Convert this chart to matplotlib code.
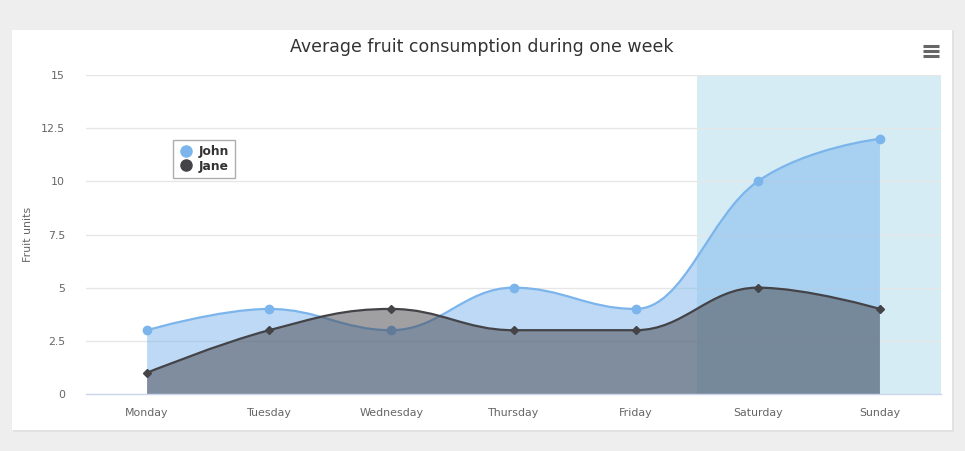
import matplotlib

matplotlib.use("Agg")
import matplotlib.pyplot as plt
from matplotlib.lines import Line2D
from matplotlib.patches import PathPatch, Rectangle
from matplotlib.path import Path

DAYS = ["Monday", "Tuesday", "Wednesday", "Thursday", "Friday", "Saturday", "Sunday"]
JOHN = [3, 4, 3, 5, 4, 10, 12]
JANE = [1, 3, 4, 3, 3, 5, 4]
Y_TICKS = [0, 2.5, 5, 7.5, 10, 12.5, 15]
Y_TICK_LABELS = ["0", "2.5", "5", "7.5", "10", "12.5", "15"]
WEEKEND_BAND = (4.5, 6.5)

JOHN_COLOR = "#7cb5ec"
JANE_COLOR = "#434348"
BAND_COLOR = (68 / 255, 170 / 255, 213 / 255, 0.22)
TEXT_COLOR = "#333333"
LABEL_COLOR = "#666666"
SMOOTHING = 1.5
FONT = ["DejaVu Sans"]

W, H = 965, 451


def spline_path(xs, ys):
    """Bezier path with the same control-point rule as a Highcharts spline."""
    n = len(xs)
    left = [(xs[i], ys[i]) for i in range(n)]
    right = [(xs[i], ys[i]) for i in range(n)]
    for i in range(1, n - 1):
        px, py = xs[i], ys[i]
        lx, ly = xs[i - 1], ys[i - 1]
        nx, ny = xs[i + 1], ys[i + 1]
        d = SMOOTHING + 1
        lcx = (SMOOTHING * px + lx) / d
        lcy = (SMOOTHING * py + ly) / d
        rcx = (SMOOTHING * px + nx) / d
        rcy = (SMOOTHING * py + ny) / d
        if rcx != lcx:
            corr = (rcy - lcy) * (rcx - px) / (rcx - lcx) + py - rcy
            lcy += corr
            rcy += corr
        if lcy > ly and lcy > py:
            lcy = max(ly, py)
            rcy = 2 * py - lcy
        elif lcy < ly and lcy < py:
            lcy = min(ly, py)
            rcy = 2 * py - lcy
        if rcy > ny and rcy > py:
            rcy = max(ny, py)
            lcy = 2 * py - rcy
        elif rcy < ny and rcy < py:
            rcy = min(ny, py)
            lcy = 2 * py - rcy
        left[i] = (lcx, lcy)
        right[i] = (rcx, rcy)
    verts = [(xs[0], ys[0])]
    codes = [Path.MOVETO]
    for i in range(1, n):
        verts += [right[i - 1], left[i], (xs[i], ys[i])]
        codes += [Path.CURVE4] * 3
    return verts, codes


def draw_series(ax, values, color, marker, msize, z):
    xs = list(range(len(values)))
    verts, codes = spline_path(xs, values)
    area_verts = verts + [(xs[-1], 0), (xs[0], 0), verts[0]]
    area_codes = codes + [Path.LINETO, Path.LINETO, Path.CLOSEPOLY]
    ax.add_patch(
        PathPatch(Path(area_verts, area_codes), facecolor=color, alpha=0.5,
                  edgecolor="none", zorder=z)
    )
    ax.add_patch(
        PathPatch(Path(verts, codes), facecolor="none", edgecolor=color,
                  linewidth=1.6, zorder=z + 0.5)
    )
    ax.plot(xs, values, linestyle="none", marker=marker, markersize=msize,
            color=color, zorder=z + 0.6)


fig = plt.figure(figsize=(W / 100, H / 100), dpi=100)
fig.patch.set_facecolor("#eeeeee")

# white card with a soft shadow
fig.patches.append(Rectangle((13 / W, 1 - 432 / H), 941 / W, 402 / H,
                             transform=fig.transFigure, facecolor="#e2e2e2",
                             edgecolor="none", zorder=-2))
fig.patches.append(Rectangle((12 / W, 1 - 430 / H), 940 / W, 400 / H,
                             transform=fig.transFigure, facecolor="white",
                             edgecolor="none", zorder=-1))

ax = fig.add_axes([86 / W, 1 - 394 / H, 855 / W, 319 / H])
ax.set_facecolor("none")
ax.set_xlim(-0.5, len(DAYS) - 0.5)
ax.set_ylim(0, 15)

ax.axvspan(*WEEKEND_BAND, color=BAND_COLOR, linewidth=0, zorder=0.5)
for y in Y_TICKS[1:]:
    ax.axhline(y, color="#e6e6e6", linewidth=1, zorder=0.6)

draw_series(ax, JOHN, JOHN_COLOR, "o", 6, 2)
draw_series(ax, JANE, JANE_COLOR, "D", 4.5, 3)

for side in ("top", "right", "left"):
    ax.spines[side].set_visible(False)
ax.spines["bottom"].set_color("#ccd6eb")
ax.spines["bottom"].set_linewidth(1)
ax.spines["bottom"].set_zorder(5)

ax.set_xticks(range(len(DAYS)))
ax.set_xticklabels(DAYS, fontsize=7.9, color=LABEL_COLOR, family=FONT)
ax.set_yticks(Y_TICKS)
ax.set_yticklabels(Y_TICK_LABELS, fontsize=7.9, color=LABEL_COLOR, family=FONT)
ax.tick_params(axis="x", length=0, pad=10)
ax.tick_params(axis="y", length=0, pad=15)

ax.set_ylabel("Fruit units", fontsize=7.9, color=LABEL_COLOR, family=FONT)
ax.yaxis.set_label_coords((33 - 86) / 855, 0.5)

fig.text(482 / W, 1 - 47 / H, "Average fruit consumption during one week",
         ha="center", va="center", fontsize=12.5, color=TEXT_COLOR, family=FONT)

# context menu icon
for y in (46, 51, 56):
    fig.add_artist(Line2D([923 / W, 939 / W], [1 - y / H, 1 - y / H],
                          color="#666666", linewidth=2.2, solid_capstyle="butt"))

handles = [
    Line2D([], [], linestyle="none", marker="o", markersize=8, color=JOHN_COLOR),
    Line2D([], [], linestyle="none", marker="o", markersize=8, color=JANE_COLOR),
]
leg = fig.legend(handles, ["John", "Jane"], loc="upper left",
                 bbox_to_anchor=(173 / W, 1 - 140 / H), borderaxespad=0,
                 frameon=True, fancybox=False, handlelength=1.3,
                 handletextpad=0.35, labelspacing=0.1, borderpad=0.45,
                 prop={"family": FONT, "weight": "bold", "size": 8.8})
leg.get_frame().set_edgecolor("#999999")
leg.get_frame().set_linewidth(1)
for t in leg.get_texts():
    t.set_color(TEXT_COLOR)

fig.savefig("out.png", dpi=100)
